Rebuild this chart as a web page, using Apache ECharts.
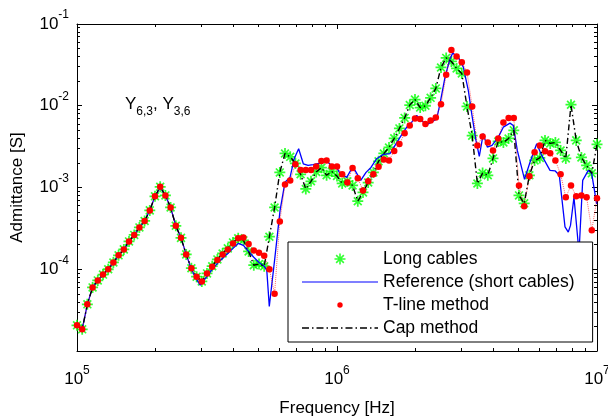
<!DOCTYPE html>
<html><head><meta charset="utf-8">
<script src="https://cdn.jsdelivr.net/npm/echarts@6/dist/echarts.min.js"></script>
<style>html,body{margin:0;padding:0;background:#fff}#c{width:608px;height:419px}</style>
</head><body><div id="c"></div>
<script>
// Shared frequency grid (Hz) of the marker series
const freq = [
1.000e5,1.047e5,1.096e5,1.148e5,1.202e5,1.259e5,1.318e5,1.380e5,1.445e5,1.514e5,
1.585e5,1.660e5,1.738e5,1.820e5,1.905e5,1.995e5,2.089e5,2.188e5,2.291e5,2.399e5,
2.512e5,2.630e5,2.754e5,2.884e5,3.020e5,3.162e5,3.311e5,3.467e5,3.631e5,3.802e5,
3.981e5,4.169e5,4.365e5,4.571e5,4.786e5,5.012e5,5.248e5,5.495e5,5.754e5,6.026e5,
6.310e5,6.607e5,6.918e5,7.244e5,7.586e5,7.943e5,8.318e5,8.710e5,9.120e5,9.550e5,
1.000e6,1.047e6,1.096e6,1.148e6,1.202e6,1.259e6,1.318e6,1.380e6,1.445e6,1.514e6,
1.585e6,1.660e6,1.738e6,1.820e6,1.905e6,1.995e6,2.089e6,2.188e6,2.291e6,2.399e6,
2.512e6,2.630e6,2.754e6,2.884e6,3.020e6,3.162e6,3.311e6,3.467e6,3.631e6,3.802e6,
3.981e6,4.169e6,4.365e6,4.571e6,4.786e6,5.012e6,5.248e6,5.495e6,5.754e6,6.026e6,
6.310e6,6.607e6,6.918e6,7.244e6,7.586e6,7.943e6,8.318e6,8.710e6,9.120e6,9.550e6,
1.000e7];

// Long cables (markers) - admittance [S]
const longCables = [
2.06e-5,1.84e-5,3.72e-5,6.0e-5,7.3e-5,8.6e-5,1.0e-4,1.21e-4,1.48e-4,1.75e-4,
2.19e-4,2.63e-4,3.25e-4,3.9e-4,5.25e-4,7.8e-4,1.02e-3,8.0e-4,5.7e-4,3.4e-4,
2.42e-4,1.52e-4,1.03e-4,8.1e-5,7.1e-5,8.9e-5,1.09e-4,1.32e-4,1.56e-4,1.80e-4,
2.13e-4,2.39e-4,2.26e-4,1.65e-4,1.12e-4,1.16e-4,1.09e-4,2.5e-4,5.7e-4,1.53e-3,
2.61e-3,2.37e-3,1.97e-3,1.45e-3,9.6e-4,1.19e-3,1.55e-3,1.75e-3,1.41e-3,1.57e-3,
1.38e-3,1.12e-3,1.19e-3,1.06e-3,6.8e-4,8.7e-4,1.15e-3,1.53e-3,2.09e-3,2.61e-3,
3.09e-3,4.0e-3,5.28e-3,7.1e-3,1.02e-2,1.19e-2,9.5e-3,1.0e-2,1.25e-2,1.63e-2,
2.94e-2,3.85e-2,3.48e-2,2.86e-2,2.48e-2,9.8e-3,4.3e-3,1.12e-3,1.5e-3,1.41e-3,
2.27e-3,3.66e-3,3.56e-3,3.98e-3,5.0e-3,8.0e-4,6.4e-4,1.41e-3,2.14e-3,2.3e-3,
3.77e-3,3.46e-3,3.56e-3,2.84e-3,2.27e-3,1.03e-2,3.77e-3,2.33e-3,1.86e-3,1.49e-3,
3.37e-3];

// T-line method (markers + dotted line)
const tLine = [
2.06e-5,1.84e-5,3.72e-5,6.0e-5,7.3e-5,8.6e-5,1.0e-4,1.21e-4,1.48e-4,1.75e-4,
2.19e-4,2.63e-4,3.25e-4,3.9e-4,5.25e-4,7.8e-4,1.02e-3,8.0e-4,5.7e-4,3.4e-4,
2.42e-4,1.52e-4,1.03e-4,8.1e-5,7.1e-5,8.9e-5,1.07e-4,1.30e-4,1.52e-4,1.75e-4,
2.07e-4,2.39e-4,2.45e-4,2.04e-4,1.70e-4,1.59e-4,1.46e-4,1.0e-4,5.0e-5,3.85e-4,
1.09e-3,1.22e-3,1.92e-3,1.64e-3,1.64e-3,1.64e-3,1.81e-3,2.11e-3,2.14e-3,1.81e-3,
1.81e-3,1.45e-3,1.15e-3,1.73e-3,1.3e-3,9.2e-4,1.19e-3,1.45e-3,1.79e-3,2.2e-3,
2.14e-3,2.8e-3,3.4e-3,4.6e-3,5.74e-3,7.0e-3,6.9e-3,6.0e-3,6.6e-3,7.2e-3,
1.04e-2,2.4e-2,4.8e-2,4.0e-2,3.4e-2,2.56e-2,9.8e-3,3.27e-3,4.2e-3,3.55e-3,
2.84e-3,3.98e-3,6.25e-3,7.1e-3,7.1e-3,1.06e-3,5.9e-4,1.37e-3,2.7e-3,3.27e-3,
2.78e-3,2.63e-3,2.14e-3,1.45e-3,7.6e-4,1.06e-3,7.8e-4,8.0e-4,7.6e-4,3.0e-4,
7.4e-4];

// Cap method follows the long-cable response
const capMethod = longCables;

// Reference (short cables)
const refFreq = [
1.000e5,1.047e5,1.096e5,1.148e5,1.202e5,1.259e5,1.318e5,1.380e5,1.445e5,1.514e5,
1.585e5,1.660e5,1.738e5,1.820e5,1.905e5,1.995e5,2.089e5,2.188e5,2.291e5,2.399e5,
2.512e5,2.630e5,2.754e5,2.884e5,2.98e5,3.020e5,3.162e5,3.311e5,3.467e5,3.631e5,
3.802e5,3.981e5,4.169e5,4.365e5,4.571e5,4.786e5,5.012e5,5.248e5,5.37e5,5.49e5,
5.77e5,6.04e5,6.31e5,6.60e5,6.85e5,7.12e5,7.42e5,7.74e5,8.10e5,8.60e5,
8.99e5,9.54e5,9.97e5,1.027e6,1.090e6,1.139e6,1.173e6,1.234e6,1.293e6,1.351e6,
1.421e6,1.507e6,1.599e6,1.672e6,1.747e6,1.854e6,1.938e6,2.025e6,2.147e6,2.245e6,
2.418e6,2.490e6,2.603e6,2.720e6,2.786e6,2.928e6,3.061e6,3.199e6,3.297e6,3.424e6,
3.526e6,3.653e6,3.785e6,3.946e6,4.172e6,4.361e6,4.628e6,4.765e6,4.937e6,5.263e6,
5.525e6,5.863e6,6.128e6,6.596e6,6.895e6,7.161e6,7.532e6,7.755e6,7.908e6,8.156e6,
8.527e6,8.810e6,9.259e6,9.541e6,9.97e6];
const refVal = [
2.06e-5,1.84e-5,3.72e-5,6.0e-5,7.3e-5,8.6e-5,1.0e-4,1.21e-4,1.48e-4,1.75e-4,
2.19e-4,2.63e-4,3.25e-4,3.9e-4,5.25e-4,7.8e-4,1.0e-3,8.0e-4,5.7e-4,3.4e-4,
2.42e-4,1.52e-4,1.0e-4,7.5e-5,6.4e-5,6.5e-5,8.2e-5,1.0e-4,1.18e-4,1.36e-4,
1.56e-4,1.80e-4,2.07e-4,1.96e-4,1.65e-4,1.40e-4,1.21e-4,1.09e-4,9.7e-5,3.5e-5,
1.40e-4,5.25e-4,1.16e-3,1.34e-3,2.27e-3,2.98e-3,1.95e-3,1.86e-3,1.90e-3,1.99e-3,
2.19e-3,1.86e-3,1.76e-3,1.48e-3,1.33e-3,1.70e-3,1.62e-3,1.22e-3,1.53e-3,1.76e-3,
2.25e-3,2.54e-3,2.59e-3,3.27e-3,4.1e-3,5.47e-3,6.3e-3,7.6e-3,6.3e-3,6.0e-3,
6.9e-3,1.06e-2,2.24e-2,3.76e-2,4.4e-2,3.93e-2,2.97e-2,1.54e-2,7.98e-3,3.77e-3,
2.4e-3,4.55e-3,3.12e-3,3.27e-3,4.13e-3,5.47e-3,6.13e-3,5.74e-3,2.84e-3,1.26e-3,
2.04e-3,3.43e-3,2.47e-3,1.62e-3,1.6e-3,1.41e-3,3.3e-4,2.85e-4,3.44e-4,7.6e-4,
1.6e-4,1.22e-3,1.62e-3,1.48e-3,6.3e-4];

// Ticks
const xMajor = [1e5, 1e6, 1e7];
const xMinor = [2e5,3e5,4e5,5e5,6e5,7e5,8e5,9e5,2e6,3e6,4e6,5e6,6e6,7e6,8e6,9e6];
const yMajor = [1e-5, 1e-4, 1e-3, 1e-2, 1e-1];
const yLabels = [1e-4, 1e-3, 1e-2, 1e-1];
const yMinor = [2e-5,3e-5,4e-5,5e-5,6e-5,7e-5,8e-5,9e-5,2e-4,3e-4,4e-4,5e-4,6e-4,7e-4,8e-4,9e-4,
                2e-3,3e-3,4e-3,5e-3,6e-3,7e-3,8e-3,9e-3,2e-2,3e-2,4e-2,5e-2,6e-2,7e-2,8e-2,9e-2];
const seriesNames = ['Long cables', 'Reference (short cables)', 'T-line method', 'Cap method'];

const FONT = '"Liberation Sans", Arial, sans-serif';
const pair = (xs, ys) => xs.map((x, i) => [x, ys[i]]);
const powLabel = v => '{b|10}{s|' + Math.round(Math.log10(v)) + '}';
const richTick = {
  b: {fontSize: 17, fontFamily: FONT, color: '#000'},
  s: {fontSize: 12, fontFamily: FONT, color: '#000', lineHeight: 12, padding: [0, 0, 18, 0]}
};

function xAx(pos, ticks, len, main) {
  return {
    type: 'log', logBase: 10, min: 1e5, max: 1e7, position: pos,
    axisLine: {show: main, onZero: false, lineStyle: {color: '#000', width: 1}},
    axisTick: {show: true, inside: true, length: len, customValues: ticks, lineStyle: {color: '#000', width: 1}},
    axisLabel: {show: false},
    splitLine: {show: false}, minorTick: {show: false}, minorSplitLine: {show: false}
  };
}
function yAx(pos, ticks, len, main) {
  return {
    type: 'log', logBase: 10, min: 1e-5, max: 1e-1, position: pos,
    axisLine: {show: main, onZero: false, lineStyle: {color: '#000', width: 1}},
    axisTick: {show: true, inside: true, length: len, customValues: ticks, lineStyle: {color: '#000', width: 1}},
    axisLabel: {show: false},
    splitLine: {show: false}, minorTick: {show: false}, minorSplitLine: {show: false}
  };
}

const xMain = xAx('bottom', xMajor, 5, true);
xMain.axisLabel = {show: true, customValues: xMajor, margin: 20, formatter: powLabel, rich: richTick,
                   showMinLabel: true, showMaxLabel: true, hideOverlap: false};
xMain.name = 'Frequency [Hz]';
xMain.nameLocation = 'middle';
xMain.nameGap = 49;
xMain.nameTextStyle = {fontSize: 17, fontFamily: FONT, color: '#000'};

const yMain = yAx('left', yMajor, 5, true);
yMain.axisLabel = {show: true, customValues: yLabels, margin: 8, formatter: powLabel, rich: richTick,
                   showMinLabel: true, showMaxLabel: true, hideOverlap: false};
yMain.name = 'Admittance [S]';
yMain.nameLocation = 'middle';
yMain.nameGap = 51;
yMain.nameTextStyle = {fontSize: 17, fontFamily: FONT, color: '#000'};

const starSym = 'path://M0,4.2 L10,4.2 L10,5.8 L0,5.8 Z M4.2,0 L5.8,0 L5.8,10 L4.2,10 Z M0.9,2.0 L2.0,0.9 L9.1,8.0 L8.0,9.1 Z M8.0,0.9 L9.1,2.0 L2.0,9.1 L0.9,8.0 Z';
const G = 'M0,0 M76,12 ';
const iconStar = 'path://' + G + 'M32.5,5.2 L43.5,5.2 L43.5,6.8 L32.5,6.8 Z M37.2,0.5 L38.8,0.5 L38.8,11.5 L37.2,11.5 Z M33.6,2.7 L34.7,1.6 L42.4,9.3 L41.3,10.4 Z M41.3,1.6 L42.4,2.7 L34.7,10.4 L33.6,9.3 Z';
const iconLine = 'path://' + G + 'M0,5.4 L76,5.4 L76,6.6 L0,6.6 Z';
const iconDot = 'path://' + G + 'M35.3,6 A2.7,2.7 0 1,1 40.7,6 A2.7,2.7 0 1,1 35.3,6 Z';
const dd = [[0,7],[10,11.5],[14.5,21.5],[24.5,26],[29,36],[39,40.5],[43.5,50.5],[53.5,55],[58,65],[68,69.5],[72.5,76]];
const iconDash = 'path://' + G + dd.map(s => `M${s[0]},5.3 L${s[1]},5.3 L${s[1]},6.7 L${s[0]},6.7 Z`).join(' ');

const chart = echarts.init(document.getElementById('c'), null, {renderer: 'canvas'});
chart.setOption({
  animation: false,
  backgroundColor: '#fff',
  grid: {left: 77, right: 11, top: 24, bottom: 68, outerBoundsMode: 'none', containLabel: false},
  xAxis: [xMain, xAx('bottom', xMinor, 3, false), xAx('top', xMajor, 5, true), xAx('top', xMinor, 3, false)],
  yAxis: [yMain, yAx('left', yMinor, 3, false), yAx('right', yMajor, 5, true), yAx('right', yMinor, 3, false)],
  legend: {
    orient: 'vertical', left: 288, top: 242,
    itemWidth: 76, itemHeight: 12, itemGap: 5,
    padding: [8, 18, 5, 14],
    backgroundColor: '#fff', borderColor: '#000', borderWidth: 1, borderRadius: 0,
    textStyle: {fontSize: 17.5, fontFamily: FONT, color: '#000'},
    itemStyle: {borderWidth: 0},
    selectedMode: false,
    data: [
      {name: seriesNames[0], icon: iconStar},
      {name: seriesNames[1], icon: iconLine},
      {name: seriesNames[2], icon: iconDot},
      {name: seriesNames[3], icon: iconDash}
    ]
  },
  graphic: [{
    type: 'text', left: 125, top: 90,
    style: {
      text: '{m|Y}{s|6,3}{m|, Y}{s|3,6}',
      rich: {
        m: {fontSize: 17, fontFamily: FONT, fill: '#000'},
        s: {fontSize: 12, fontFamily: FONT, fill: '#000', lineHeight: 12, padding: [16, 0, 0, 0]}
      }
    }
  }],
  series: [
    {name: seriesNames[0], type: 'scatter', data: pair(freq, longCables),
     symbol: starSym, symbolSize: 11, itemStyle: {color: '#00ff00'}},
    {name: seriesNames[1], type: 'line', data: pair(refFreq, refVal), symbol: 'none',
     itemStyle: {color: '#0000ff'}, lineStyle: {color: '#0000ff', width: 1.3}},
    {name: seriesNames[2], type: 'line', data: pair(freq, tLine), symbol: 'circle', symbolSize: 6.5,
     showSymbol: true, itemStyle: {color: '#ff0000', borderWidth: 0},
     lineStyle: {color: 'rgba(255,0,0,0.6)', width: 1, type: 'dotted'}},
    {name: seriesNames[3], type: 'line', data: pair(freq, capMethod), symbol: 'none',
     itemStyle: {color: '#000'}, lineStyle: {color: '#000', width: 1.4, type: [6, 3, 1.5, 3]}}
  ]
});
</script></body></html>
